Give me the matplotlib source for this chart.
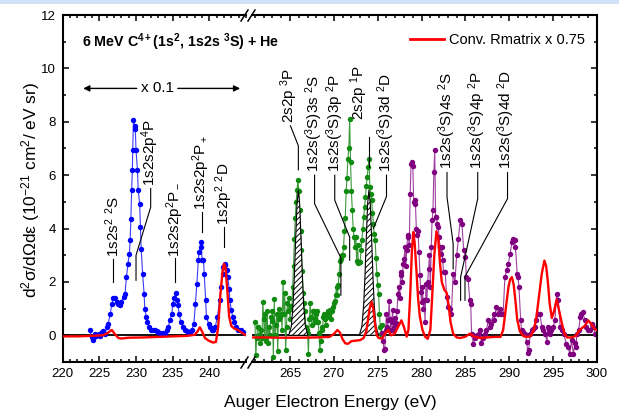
import matplotlib
matplotlib.use("Agg")
import matplotlib.pyplot as plt
import numpy as np
from matplotlib.lines import Line2D
from matplotlib.patches import Rectangle
from matplotlib.ticker import FixedLocator, MultipleLocator

plt.rcParams["font.family"] = ["Liberation Sans", "DejaVu Sans"]
plt.rcParams["mathtext.fontset"] = "custom"
plt.rcParams["mathtext.rm"] = "Liberation Sans"
plt.rcParams["mathtext.it"] = "Liberation Sans:italic"
plt.rcParams["mathtext.bf"] = "Liberation Sans:bold"
plt.rcParams["hatch.linewidth"] = 0.7

# ---- measured spectrum (x 0.1 scaled), 1s2s2p / 1s2p2 region ----
blue_e = [223.7, 223.95, 224.2, 224.4, 224.6, 224.9, 225.1, 225.3, 225.5, 225.8,
          226.0, 226.2, 226.5, 226.7, 226.9, 227.1, 227.4, 227.6, 227.8, 228.0,
          228.3, 228.5, 228.7, 228.9, 229.1, 229.2, 229.3, 229.4, 229.5, 229.55,
          229.65, 229.8, 229.9, 230.0, 230.2, 230.3, 230.5, 230.6, 230.7, 230.9,
          231.1, 231.2, 231.4, 231.5, 231.8, 232.1, 232.4, 232.6, 232.8, 233.0,
          233.3, 233.5, 233.7, 233.9, 234.2, 234.4, 234.6, 234.9, 235.0, 235.2,
          235.4, 235.6, 235.7, 235.9, 236.1, 236.4, 236.7, 236.9, 237.1, 237.4,
          237.6, 237.9, 238.1, 238.3, 238.5, 238.6, 238.8, 238.9, 239.0, 239.2,
          239.3, 239.5, 239.6, 239.9, 240.1, 240.3, 240.5, 240.8, 241.1, 241.4,
          241.6, 241.8, 241.9, 242.1, 242.2, 242.4, 242.5, 242.7, 242.8, 243.0,
          243.2, 243.4, 243.6, 243.9, 244.3, 244.6]
blue_v = [0.19, -0.06, -0.19, 0.06, -0.02, 0.06, -0.04, 0.12, 0.15, 0.06,
          0.31, 0.44, 0.81, 1.19, 1.38, 1.38, 1.25, 1.19, 1.12, 1.25,
          1.44, 1.56, 2.19, 2.69, 3.06, 3.56, 4.37, 5.43, 6.18, 6.93,
          8.05, 7.86, 7.74, 6.93, 6.18, 5.43, 4.93, 4.06, 3.25, 2.31,
          1.56, 1.0, 0.69, 0.5, 0.31, 0.19, 0.2, 0.19, 0.15, 0.12,
          0.1, 0.06, 0.1, 0.06, 0.19, 0.31, 0.56, 0.81, 1.19, 1.38,
          1.59, 1.31, 1.12, 0.81, 0.5, 0.31, 0.19, 0.15, 0.12, 0.1,
          0.19, 0.44, 1.19, 1.94, 2.81, 3.12, 3.31, 3.49, 2.81, 2.81,
          2.31, 1.31, 0.69, 0.44, 0.31, 0.2, 0.19, 0.31, 0.69, 1.31,
          1.81, 2.31, 2.56, 2.68, 2.62, 2.43, 2.19, 1.75, 1.31, 0.94,
          0.69, 0.5, 0.31, 0.19, 0.19, 0.12]

# ---- measured spectrum, 2s2p / 1s2s(3S)3l region (0.1 eV grid from 261.0) ----
green_start = 261.0
green_step = 0.1
green_v = [0.5, -0.75, -0.1, 0.3, 0.3, 0.0, -0.3, 0.2, -0.1, 1.25,
           0.6, -0.1, 0.8, -0.2, 0.9, -0.3, 0.3, 0.0, 0.7, 0.55,
           0.9, -0.8, 1.35, 0.0, 0.4, 0.8, -0.6, 1.0, 0.6, 0.7,
           0.8, 0.2, 2.0, 0.8, 1.6, -0.56, 0.3, 1.2, 0.9, 1.4,
           0.6, 1.1, 1.0, 1.8, 2.6, 3.6, 4.4, 5.0, 5.45, 5.83,
           5.4, 4.7, 3.9, 3.2, 2.4, 1.6, 1.2, 0.9, 0.3, 0.2,
           0.1, -0.7, 0.6, 1.2, 0.7, 0.4, 0.9, 0.9, 0.5, 0.6,
           0.8, 0.9, 0.5, 0.1, -0.55, -0.2, 0.3, 0.2, 0.7, 0.8,
           0.6, 0.4, 0.8, 0.9, 0.7, 0.8, 0.95, 0.6, 0.9, 1.05,
           1.2, 1.3, 1.5, 1.8, 1.5, 1.9, 2.3, 2.8, 2.85, 3.0,
           3.0, 3.3, 3.9, 4.4, 5.4, 5.9, 6.6, 7.0, 8.1, 6.5,
           5.4, 4.7, 4.0, 3.7, 3.3, 3.7, 2.8, 3.4, 2.7, 2.75,
           2.75, 3.2, 3.56, 4.0, 4.43, 4.8, 5.18, 5.6, 5.93, 6.3,
           6.61, 5.56, 5.3, 5.06, 4.6, 4.18, 3.8, 3.56, 2.9, 2.3,
           1.9, 1.56, 0.8, 0.3, 0.06, 0.4]

# ---- measured spectrum, 1s2s(3S)nl region ----
purple_e = [275.5, 275.6, 275.7, 275.8, 275.9, 276.0, 276.1, 276.2, 276.3, 276.4,
            276.5, 276.6, 276.7, 276.8, 276.9, 277.0, 277.1, 277.2, 277.3, 277.4,
            277.5, 277.6, 277.7, 277.8, 277.9, 278.0, 278.1, 278.2, 278.3, 278.4,
            278.5, 278.6, 278.7, 278.8, 278.9, 279.0, 279.1, 279.2, 279.3, 279.4,
            279.5, 279.6, 279.7, 279.8, 279.9, 280.0, 280.1, 280.2, 280.3, 280.4,
            280.5, 280.6, 280.7, 280.8, 280.9, 281.0, 281.1, 281.2, 281.3, 281.4,
            281.5, 281.6, 281.7, 281.8, 281.9, 282.0, 282.1, 282.2, 282.3, 282.4,
            282.5, 282.7, 282.85, 283.0, 283.2, 283.4, 283.6, 283.8, 284.0, 284.2,
            284.4, 284.6, 284.8, 285.0, 285.1, 285.3, 285.5, 285.6, 285.7, 285.9,
            286.1, 286.3, 286.5, 286.7, 286.8, 287.0, 287.2, 287.4, 287.6, 287.8,
            287.9, 288.2, 288.3, 288.5, 288.7, 288.9, 289.1, 289.3, 289.5, 289.7,
            289.9, 290.1, 290.3, 290.4, 290.6, 290.7, 290.9, 291.0, 291.1, 291.3,
            291.4, 291.6, 291.8, 292.0, 292.1, 292.2, 292.4, 292.55, 292.7, 292.9,
            293.1, 293.3, 293.5, 293.7, 293.9, 294.1, 294.3, 294.4, 294.5, 294.6,
            294.8, 295.0, 295.2, 295.4, 295.6, 295.8, 296.0, 296.2, 296.5, 296.7,
            296.9, 297.1, 297.3, 297.5, 297.6, 297.7, 297.9, 298.1, 298.2, 298.4,
            298.6, 298.8, 299.0, 299.2, 299.4, 299.6, 299.8]
purple_v = [0.1, -0.2, -0.56, -0.5, 0.2, 0.81, 0.3, 0.56, 1.28, 0.6,
            0.2, 0.5, 0.94, 0.3, 0.19, 0.65, 0.45, 0.9, 1.56, 1.81,
            1.4, 2.25, 2.37, 2.0, 2.69, 2.87, 3.31, 2.6, 3.2, 3.68,
            3.75, 3.4, 5.3, 6.43, 6.49, 6.35, 5.0, 5.06, 4.93, 4.0,
            3.75, 3.9, 3.12, 2.25, 1.62, 1.25, 1.81, 1.0, 1.31, 0.5,
            1.94, 1.31, 2.0, 2.5, 3.0, 1.81, 3.31, 4.31, 4.68, 6.12,
            6.93, 4.43, 4.43, 4.18, 4.06, 3.68, 3.31, 3.06, 3.31, 2.81,
            2.37, 2.37, 1.43, 1.06, 1.0, 0.81, 2.31, 2.0, 3.0, 3.62,
            4.31, 4.18, 3.18, 2.93, 2.19, 2.12, 1.31, 1.19, 0.06, -0.31,
            -0.1, 0.0, 0.06, 0.19, -0.3, -0.1, 0.06, 0.19, 0.56, 0.31,
            0.44, 0.81, 0.56, 1.06, 0.81, 1.0, 0.81, 0.81, 2.19, 2.43,
            2.68, 3.06, 3.49, 3.62, 3.56, 3.31, 2.31, 2.19, 1.81, 0.56,
            0.19, 0.12, 0.06, -0.25, -0.66, -0.56, 0.06, 0.19, 0.25, 0.31,
            0.56, 0.81, 0.81, 0.31, 0.19, 0.06, -0.25, 0.31, 0.19, 0.06,
            0.19, 0.31, 0.56, 1.56, 1.31, 0.31, 0.19, 0.06, -0.31, -0.44,
            -0.69, -0.19, -0.69, -0.3, -0.44, 0.06, 0.19, 0.69, 0.81, 0.87,
            0.56, 0.31, 0.19, 0.19, 0.44, 0.31, 0.06]

# ---- convoluted R-matrix calculation (x 0.75) ----
red_l_e = [220.0, 222.0, 224.0, 225.5, 226.2, 226.7, 227.1, 227.6, 228.0, 229.0,
           231.0, 233.0, 235.0, 237.0, 238.0, 238.4, 238.7, 239.0, 239.4, 239.9,
           240.5, 240.9, 241.2, 241.5, 241.8, 242.0, 242.2, 242.45, 242.7, 243.0,
           243.4, 243.9, 244.4, 245.0]
red_l_v = [-0.04, -0.04, -0.02, 0.0, 0.1, 0.2, 0.05, -0.1, -0.12, -0.09,
           -0.08, -0.06, -0.04, -0.02, 0.02, 0.15, 0.3, 0.15, -0.1, -0.2,
           -0.27, -0.25, 0.3, 1.5, 2.4, 2.68, 2.55, 1.7, 0.7, 0.35,
           0.25, 0.2, 0.1, 0.0]
red_r_e = [260.7, 262.0, 264.0, 266.0, 268.0, 269.5, 270.0, 270.4, 270.7, 271.0,
           271.3, 271.6, 272.0, 272.5, 273.0, 273.4, 273.7, 273.9, 274.1, 274.3,
           274.5, 274.7, 274.9, 275.1, 275.5, 275.9, 276.2, 276.5, 276.9, 277.3,
           277.7, 278.0, 278.3, 278.5, 278.7, 278.9, 279.06, 279.2, 279.4, 279.6,
           279.8, 280.1, 280.4, 280.7, 281.0, 281.2, 281.45, 281.7, 281.9, 282.1,
           282.3, 282.6, 282.85, 283.1, 283.3, 283.6, 284.0, 284.4, 285.0, 285.5,
           286.0, 286.7, 287.5, 288.3, 289.0, 289.3, 289.6, 289.9, 290.1, 290.3,
           290.5, 290.7, 290.9, 291.2, 291.6, 292.0, 292.4, 292.8, 293.1, 293.4,
           293.7, 294.0, 294.2, 294.4, 294.6, 294.85, 295.1, 295.4, 295.7, 296.0,
           296.3, 296.6, 297.1, 297.6, 297.9, 298.2, 298.6, 299.0, 299.4, 299.7,
           300.0]
red_r_v = [-0.08, -0.08, -0.09, -0.09, -0.08, -0.06, 0.05, 0.2, 0.1, -0.15,
           -0.3, -0.32, -0.22, -0.2, -0.18, -0.1, 0.15, 0.6, 1.05, 1.26,
           1.0, 0.4, 0.0, -0.1, -0.12, 0.1, 0.2, 0.0, 0.05, 0.3,
           0.56, 0.3, -0.05, 0.2, 1.5, 3.2, 3.87, 3.5, 2.5, 1.4,
           0.7, 0.2, -0.05, -0.13, 0.2, 1.4, 3.0, 3.9, 3.6, 2.7,
           2.0, 1.7, 1.6, 1.1, 0.5, 0.06, -0.08, -0.1, -0.05, 0.06,
           -0.05, -0.1, -0.08, -0.06, -0.06, 0.2, 1.0, 1.8, 2.1, 2.18,
           1.9, 1.3, 0.6, 0.15, -0.03, -0.06, -0.04, 0.2, 0.7, 1.5,
           2.3, 2.8, 2.6, 2.0, 1.2, 0.65, 0.9, 1.34, 0.9, 0.44,
           0.05, -0.08, -0.08, -0.02, 0.15, 0.25, 0.35, 0.56, 0.4, 0.25,
           0.19]

# ---- fitted 2s2p 3P and 2s2p 1P lines (hatched) ----
hatch1_e = [264.85, 265.15, 265.35, 265.5, 265.65, 265.8, 265.95, 266.1, 266.25, 266.4, 266.55, 266.75, 267.05]
hatch1_v = [0.0, 0.34, 1.15, 2.26, 3.68, 4.93, 5.43, 4.93, 3.68, 2.26, 1.15, 0.34, 0.0]
hatch2_e = [272.9, 273.2, 273.4, 273.55, 273.7, 273.85, 274.0, 274.15, 274.3, 274.45, 274.6, 274.8, 275.1]
hatch2_v = [0.0, 0.34, 1.15, 2.26, 3.68, 4.93, 5.45, 4.93, 3.68, 2.26, 1.15, 0.34, 0.0]

# ---- line identifications: (energy, text bottom, label) and leader paths ----
left_labels = [(226.8, 2.95, "1s2s$^2$ $^2$S"),
               (231.95, 5.6, "1s2s2p$^4$P"),
               (235.3, 2.95, "1s2s2p$^2$P$_-$"),
               (238.95, 4.68, "1s2s2p$^2$P$_+$"),
               (242.05, 4.15, "1s2p$^2$ $^2$D")]
left_leaders = [[(226.8, 1.98), (226.8, 2.85)],
                [(232.0, 5.5), (232.0, 4.8), (230.0, 3.0), (230.0, 2.06)],
                [(235.35, 2.0), (235.35, 2.88)],
                [(238.95, 3.87), (238.95, 4.62)],
                [(242.05, 3.31), (242.05, 4.06)]]
right_labels = [(264.95, 7.95, "2s2p $^3$P"),
                (267.8, 6.1, "1s2s($^3$S)3s $^2$S"),
                (270.1, 6.1, "1s2s($^3$S)3p $^2$P"),
                (272.9, 8.05, "2s2p $^1$P"),
                (276.0, 6.12, "1s2s($^3$S)3d $^2$D"),
                (282.9, 6.24, "1s2s($^3$S)4s $^2$S"),
                (286.3, 6.24, "1s2s($^3$S)4p $^2$P"),
                (289.6, 6.24, "1s2s($^3$S)4d $^2$D")]
right_leaders = [[(265.05, 7.85), (265.95, 7.1), (265.95, 6.2)],
                 [(267.8, 6.0), (267.8, 4.93), (270.8, 2.9), (270.8, 1.5)],
                 [(270.1, 6.0), (270.1, 5.06), (271.8, 3.68), (271.8, 2.81)],
                 [(274.0, 7.43), (274.0, 6.3)],
                 [(276.0, 6.0), (276.0, 5.2), (274.5, 4.0)],
                 [(282.9, 6.1), (282.9, 5.18), (283.6, 3.43), (283.6, 2.49)],
                 [(286.4, 6.1), (286.4, 5.12), (284.45, 2.18), (284.45, 1.31)],
                 [(289.8, 6.1), (289.8, 5.12), (284.95, 2.2), (284.95, 1.31)]]

W, H = 619, 413
fig = plt.figure(figsize=(W / 100, H / 100), dpi=100)


def fx(px):
    return px / W


def fy(py):
    return 1 - py / H


fig.add_artist(Rectangle((0, fy(4)), 1, 4 / H, transform=fig.transFigure,
                         facecolor="#cfe2f7", edgecolor="none"))

x_left, x_break_l, x_break_r, x_right = 62.7, 246.0, 252.3, 597.0
y_top, y_bot = 15.0, 362.0
ax_l = fig.add_axes([fx(x_left), fy(y_bot), (x_break_l - x_left) / W, (y_bot - y_top) / H])
ax_r = fig.add_axes([fx(x_break_r), fy(y_bot), (x_right - x_break_r) / W, (y_bot - y_top) / H],
                    sharey=ax_l)

for ax in (ax_l, ax_r):
    ax.set_ylim(-1, 12)
    ax.tick_params(which="both", direction="in", top=True, width=1.1,
                   labelsize=9.5, colors="black")
    ax.tick_params(axis="x", pad=4)
    ax.tick_params(axis="y", pad=5)
    ax.tick_params(which="major", length=4.5)
    ax.tick_params(which="minor", length=2.2)
    for spine in ax.spines.values():
        spine.set_linewidth(1.5)
    ax.axhline(0, color="black", lw=1.3, zorder=1.5)

ax_l.set_xlim(220, 245)
ax_l.xaxis.set_major_locator(FixedLocator([220, 225, 230, 235, 240]))
ax_l.xaxis.set_minor_locator(MultipleLocator(1))
ax_l.yaxis.set_major_locator(MultipleLocator(2))
ax_l.yaxis.set_minor_locator(MultipleLocator(1))
ax_l.spines["right"].set_visible(False)
ax_l.tick_params(which="both", right=False)

ax_r.set_xlim(260.7, 300)
ax_r.xaxis.set_major_locator(FixedLocator([265, 270, 275, 280, 285, 290, 295, 300]))
ax_r.xaxis.set_minor_locator(FixedLocator(list(range(261, 300))))
ax_r.spines["left"].set_visible(False)
ax_r.tick_params(which="both", left=False, labelleft=False, right=True)

# data
green_e = np.round(green_start + green_step * np.arange(len(green_v)), 2)
ax_l.plot(blue_e, blue_v, "-o", color="#3c3cff", lw=0.8, ms=3.9,
          mfc="#0000ff", mec="#0000ff", mew=0, zorder=2)
ax_r.plot(green_e, green_v, "-o", color="#3c9a3c", lw=0.8, ms=3.9,
          mfc="#108a10", mec="#108a10", mew=0, zorder=2)
ax_r.plot(purple_e, purple_v, "-o", color="#a040a0", lw=0.8, ms=3.9,
          mfc="#800080", mec="#800080", mew=0, zorder=2)
for he, hv in ((hatch1_e, hatch1_v), (hatch2_e, hatch2_v)):
    ax_r.fill(he, hv, facecolor="white", edgecolor="black", hatch="//////",
              lw=0.8, zorder=2.5)
ax_l.plot(red_l_e, red_l_v, color="#ff0000", lw=1.7, zorder=4)
ax_r.plot(red_r_e, red_r_v, color="#ff0000", lw=1.7, zorder=4)

# line labels
for ax, labels, leaders in ((ax_l, left_labels, left_leaders),
                            (ax_r, right_labels, right_leaders)):
    for (xe, yb, txt), path in zip(labels, leaders):
        ax.text(xe, yb, txt, rotation=90, ha="center", va="bottom",
                fontsize=11, zorder=5)
        ax.plot([p[0] for p in path], [p[1] for p in path], color="black",
                lw=0.8, zorder=5)

# x 0.1 marker for the left part
arrow = dict(arrowstyle="-|>", color="black", lw=1.0, mutation_scale=9,
             shrinkA=0, shrinkB=0)
ax_l.annotate("", xy=(222.8, 9.25), xytext=(230.1, 9.25), arrowprops=arrow)
ax_l.annotate("", xy=(244.2, 9.25), xytext=(235.7, 9.25), arrowprops=arrow)
ax_l.text(232.9, 9.25, "x 0.1", ha="center", va="center", fontsize=11)

# axis break marks
for yb in (368, 21):
    for x0 in (241, 248):
        fig.add_artist(Line2D([fx(x0), fx(x0 + 7)], [fy(yb), fy(yb - 11)],
                              transform=fig.transFigure, color="black", lw=1.1))

ax_r.legend([Line2D([], [], color="#ff0000", lw=2)], ["Conv. Rmatrix x 0.75"],
            loc="center left", bbox_to_anchor=(fx(410), fy(40)),
            bbox_transform=fig.transFigure, frameon=False, borderpad=0,
            borderaxespad=0, handlelength=2.3, handletextpad=0.35, fontsize=10.5)

fig.text(fx(82), fy(42), r"6 MeV C$^{\mathbf{4+}}$(1s$^{\mathbf{2}}$, 1s2s $^{\mathbf{3}}$S) + He",
         fontweight="bold", fontsize=10.3, ha="left", va="center")
fig.text(fx(330), fy(402), "Auger Electron Energy (eV)", ha="center", va="center",
         fontsize=12.5)
fig.text(fx(31), fy(190), "d$^2$σ/dΩdε (10$^{-21}$ cm$^2$/ eV sr)", rotation=90,
         ha="center", va="center", fontsize=12.5)

fig.savefig("out.png", dpi=100)
